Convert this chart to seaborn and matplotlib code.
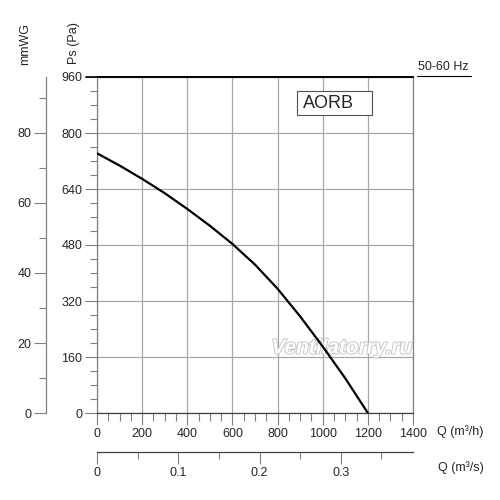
import numpy as np
import pandas as pd
import matplotlib
matplotlib.use('Agg')
import matplotlib.pyplot as plt
import matplotlib.patheffects as pe
from matplotlib.patches import Rectangle
from matplotlib.ticker import MultipleLocator
import seaborn as sns

# fan curve (Q in m3/h, Ps in Pa)
flow_m3h = [0, 100, 200, 300, 400, 500, 600, 700, 800, 900, 1000, 1100, 1200]
ps_pa = [742, 707, 669, 628, 583, 535, 483, 424, 355, 276, 190, 99, 0]

pa_ticks = [0, 160, 320, 480, 640, 800, 960]
mmwg_ticks = [0, 20, 40, 60, 80]
q_ticks = [0, 200, 400, 600, 800, 1000, 1200, 1400]
qs_ticks = [0, 0.1, 0.2, 0.3]
qs_labels = ['0', '0.1', '0.2', '0.3']

model = 'AORB'
freq = '50-60 Hz'

df = pd.DataFrame({'Q': flow_m3h, 'Ps': ps_pa})

sns.set_style('white')
plt.rcParams['font.family'] = ['Liberation Sans', 'DejaVu Sans']
plt.rcParams['font.size'] = 9

grey = '#808080'
fig = plt.figure(figsize=(5, 5), dpi=100)
ax = fig.add_axes([0.194, 0.174, 0.632, 0.672])

sns.lineplot(data=df, x='Q', y='Ps', ax=ax, color='black', linewidth=1.6, zorder=3)

ax.set_xlim(0, 1400)
ax.set_ylim(0, 960)
ax.set_xlabel('')
ax.set_ylabel('')
ax.set_xticks(q_ticks)
ax.set_yticks(pa_ticks)
ax.xaxis.set_minor_locator(MultipleLocator(50))
ax.yaxis.set_minor_locator(MultipleLocator(40))
ax.grid(True, which='major', color='#a8a8a8', linewidth=0.9)
ax.set_axisbelow(True)
ax.tick_params(which='major', direction='out', length=8.5, width=0.8, color=grey, pad=2, labelsize=9)
ax.tick_params(which='minor', direction='out', length=5, width=0.8, color=grey)
ax.tick_params(axis='x', which='minor', length=5.5)
ax.tick_params(left=True, bottom=True, which='both')

for side in ['left', 'right']:
    ax.spines[side].set_color(grey)
    ax.spines[side].set_linewidth(0.9)
ax.spines['bottom'].set_color('#404040')
ax.spines['bottom'].set_linewidth(0.9)
ax.spines['top'].set_color('black')
ax.spines['top'].set_linewidth(1.2)

# black top line extended to the left tick
ax.plot([-0.035, 1], [1, 1], transform=ax.transAxes, color='black', lw=1.2, clip_on=False)

# mmWG axis on the far left
ay2 = ax.secondary_yaxis(-0.162, functions=(lambda p: p / 10, lambda m: m * 10))
ay2.set_yticks(mmwg_ticks)
ay2.yaxis.set_minor_locator(MultipleLocator(10))
ay2.tick_params(which='major', direction='out', length=8.5, width=0.8, color=grey, pad=2, labelsize=9)
ay2.tick_params(which='minor', direction='out', length=5, width=0.8, color=grey)
ay2.spines['left'].set_color(grey)
ay2.spines['left'].set_linewidth(0.9)

# m3/s axis below
ax2 = ax.secondary_xaxis(-0.117, functions=(lambda q: q / 3600, lambda s: s * 3600))
ax2.set_xticks(qs_ticks, qs_labels)
ax2.xaxis.set_minor_locator(MultipleLocator(0.05))
ax2.tick_params(which='major', direction='out', length=8.5, width=0.8, color=grey, pad=2, labelsize=9)
ax2.tick_params(which='minor', direction='out', length=5, width=0.8, color=grey)
ax2.spines['bottom'].set_color('#404040')
ax2.spines['bottom'].set_linewidth(0.9)

# axis titles
fig.text(437 / 500, 1 - 432 / 500, 'Q (m³/h)', ha='left', va='center', fontsize=9)
fig.text(438 / 500, 1 - 468 / 500, 'Q (m³/s)', ha='left', va='center', fontsize=9)
fig.text(74 / 500, 1 - 43 / 500, 'Ps (Pa)', rotation=90, ha='center', va='center', fontsize=9)
fig.text(25 / 500, 1 - 44 / 500, 'mmWG', rotation=90, ha='center', va='center', fontsize=9)

# frequency note with underline
fig.text(418 / 500, 1 - 67 / 500, freq, ha='left', va='center', fontsize=9)
fig.add_artist(plt.Line2D([417 / 500, 471 / 500], [1 - 76 / 500, 1 - 76 / 500],
                          color='black', lw=0.8, transform=fig.transFigure))

# model box
ax.add_patch(Rectangle((297 / 500, 1 - 115 / 500), 75 / 500, 23.5 / 500, transform=fig.transFigure,
                       facecolor='white', edgecolor='#505050', linewidth=0.8, zorder=4))
ax.text(303 / 500, 1 - 103.5 / 500, model, transform=fig.transFigure, ha='left', va='center',
        fontsize=13, zorder=5)

# watermark, behind the curve
ax.text(342 / 500, 1 - 348 / 500, 'Ventilatorry.ru', transform=fig.transFigure,
        ha='center', va='center', fontsize=15, fontstyle='italic', fontweight='bold',
        color='white', zorder=2,
        path_effects=[pe.Stroke(linewidth=1.3, foreground='#c4c4c4'), pe.Normal()])

fig.savefig('out.png', dpi=100)
